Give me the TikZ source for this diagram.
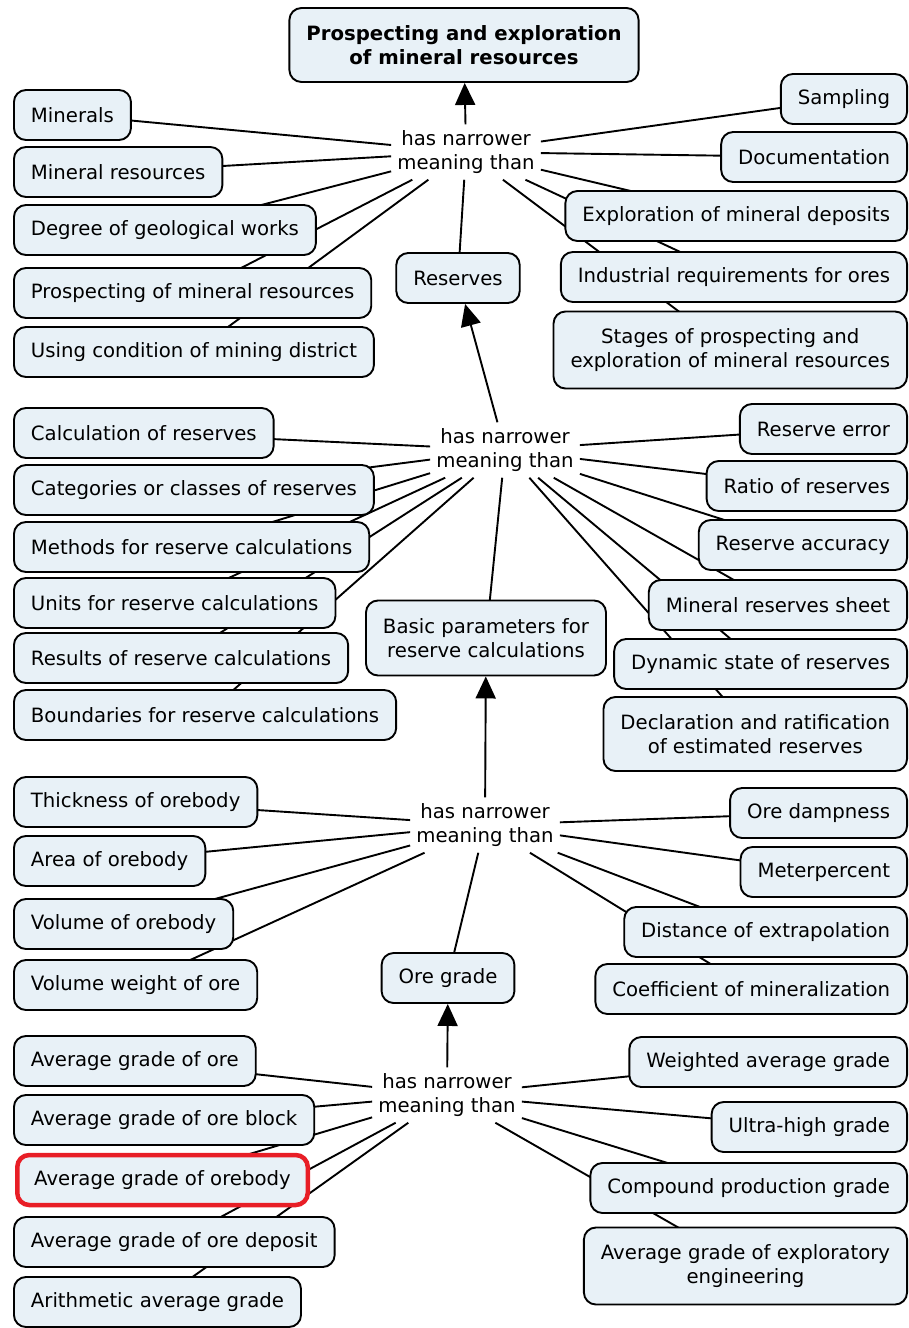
\documentclass[tikz,border=0pt]{standalone}
\usepackage{fontspec}
\usepackage{tikz}
\usetikzlibrary{arrows.meta,backgrounds}
\newfontfamily\mapfont{DejaVu Sans}
\definecolor{boxfill}{RGB}{232,241,247}
\definecolor{markred}{RGB}{232,30,38}
\tikzset{
  concept/.style={draw, line width=1.9pt, rounded corners=12pt, fill=boxfill, inner xsep=17pt, inner ysep=4pt,
    minimum height=50pt, align=center, font=\mapfont\fontsize{19.7}{24}\selectfont},
  twoline/.style={minimum height=77pt},
  linkphrase/.style={inner sep=6pt, align=center, font=\mapfont\fontsize{19.7}{24}\selectfont},
  conn/.style={line width=1.9pt},
  uparrow/.style={conn, -{Triangle[width=20pt,length=22pt]}}
}

\begin{document}
\begin{tikzpicture}[x=1pt,y=-1pt]
        \useasboundingbox (0,0) rectangle (909,1328);
        \node[concept, minimum height=74pt, font=\mapfont\bfseries\fontsize{19.7}{24}\selectfont] (top) at (464,45) {Prospecting and exploration\\of mineral resources};
        \node[linkphrase] (ph1) at (466,152) {has narrower\\meaning than};
        \node[concept, anchor=west] (minerals) at (13,115) {Minerals};
        \node[concept, anchor=west] (minres) at (13,172) {Mineral resources};
        \node[concept, anchor=west] (degree) at (13,230) {Degree of geological works};
        \node[concept, anchor=west] (prospect) at (13,293) {Prospecting of mineral resources};
        \node[concept, anchor=west] (usingcond) at (13,352) {Using condition of mining district};
        \node[concept, anchor=east] (sampling) at (908,99) {Sampling};
        \node[concept, anchor=east] (documentation) at (908,157) {Documentation};
        \node[concept, anchor=east] (exploration) at (908,216) {Exploration of mineral deposits};
        \node[concept, anchor=east] (industrial) at (908,277) {Industrial requirements for ores};
        \node[concept, twoline, anchor=east] (stages) at (908,350) {Stages of prospecting and\\exploration of mineral resources};
        \node[concept] (reserves) at (458,278) {Reserves};

        \node[linkphrase] (ph2) at (505,450) {has narrower\\meaning than};
        \node[concept, anchor=west] (calculation) at (13,433) {Calculation of reserves};
        \node[concept, anchor=west] (categories) at (13,490) {Categories or classes of reserves};
        \node[concept, anchor=west] (methods) at (13,547) {Methods for reserve calculations};
        \node[concept, anchor=west] (units) at (13,603) {Units for reserve calculations};
        \node[concept, anchor=west] (results) at (13,658) {Results of reserve calculations};
        \node[concept, anchor=west] (boundaries) at (13,715) {Boundaries for reserve calculations};
        \node[concept, anchor=east] (reserror) at (908,429) {Reserve error};
        \node[concept, anchor=east] (ratio) at (908,486) {Ratio of reserves};
        \node[concept, anchor=east] (accuracy) at (908,545) {Reserve accuracy};
        \node[concept, anchor=east] (sheet) at (908,605) {Mineral reserves sheet};
        \node[concept, anchor=east] (dynamic) at (908,664) {Dynamic state of reserves};
        \node[concept, twoline, minimum height=74pt, anchor=east] (declaration) at (908,734) {Declaration and ratification\\of estimated reserves};
        \node[concept, twoline, minimum height=75pt] (basic) at (486,638) {Basic parameters for\\reserve calculations};

        \node[linkphrase] (ph3) at (485,825) {has narrower\\meaning than};
        \node[concept, anchor=west] (thickness) at (13,802) {Thickness of orebody};
        \node[concept, anchor=west] (area) at (13,861) {Area of orebody};
        \node[concept, anchor=west] (volume) at (13,924) {Volume of orebody};
        \node[concept, anchor=west] (volweight) at (13,985) {Volume weight of ore};
        \node[concept, anchor=east] (dampness) at (908,813) {Ore dampness};
        \node[concept, anchor=east] (meterpct) at (908,872) {Meterpercent};
        \node[concept, anchor=east] (extrapol) at (908,932) {Distance of extrapolation};
        \node[concept, anchor=east] (coeff) at (908,989) {Coefficient of mineralization};
        \node[concept] (oregrade) at (448,978) {Ore grade};

        \node[linkphrase] (ph4) at (447,1095) {has narrower\\meaning than};
        \node[concept, anchor=west] (avgore) at (13,1061) {Average grade of ore};
        \node[concept, anchor=west] (avgblock) at (13,1120) {Average grade of ore block};
        \node[concept, draw=markred, line width=4.5pt, anchor=west] (avgbody) at (15,1180) {Average grade of orebody};
        \node[concept, anchor=west] (avgdeposit) at (13,1242) {Average grade of ore deposit};
        \node[concept, anchor=west] (arithmetic) at (13,1302) {Arithmetic average grade};
        \node[concept, anchor=east] (weighted) at (908,1062) {Weighted average grade};
        \node[concept, anchor=east] (ultrahigh) at (908,1127) {Ultra-high grade};
        \node[concept, anchor=east] (compound) at (908,1188) {Compound production grade};
        \node[concept, twoline, anchor=east] (exploratory) at (908,1266) {Average grade of exploratory\\engineering};

        \begin{pgfonlayer}{background}
        \foreach \c in {minerals,minres,degree,prospect,usingcond,sampling,documentation,exploration,industrial,stages,reserves}{
            \draw[conn] (ph1) -- (\c.center);
        }
        \foreach \c in {calculation,categories,methods,units,results,boundaries,reserror,ratio,accuracy,sheet,dynamic,declaration,basic}{
            \draw[conn] (ph2) -- (\c.center);
        }
        \foreach \c in {thickness,area,volume,volweight,dampness,meterpct,extrapol,coeff,oregrade}{
            \draw[conn] (ph3) -- (\c.center);
        }
        \foreach \c in {avgore,avgblock,avgbody,avgdeposit,arithmetic,weighted,ultrahigh,compound,exploratory}{
            \draw[conn] (ph4) -- (\c.center);
        }
        \end{pgfonlayer}
        \draw[uparrow] (ph1) -- (top);
        \draw[uparrow] (ph2) -- (reserves);
        \draw[uparrow] (ph3) -- (basic);
        \draw[uparrow] (ph4) -- (oregrade);
\end{tikzpicture}
\end{document}
